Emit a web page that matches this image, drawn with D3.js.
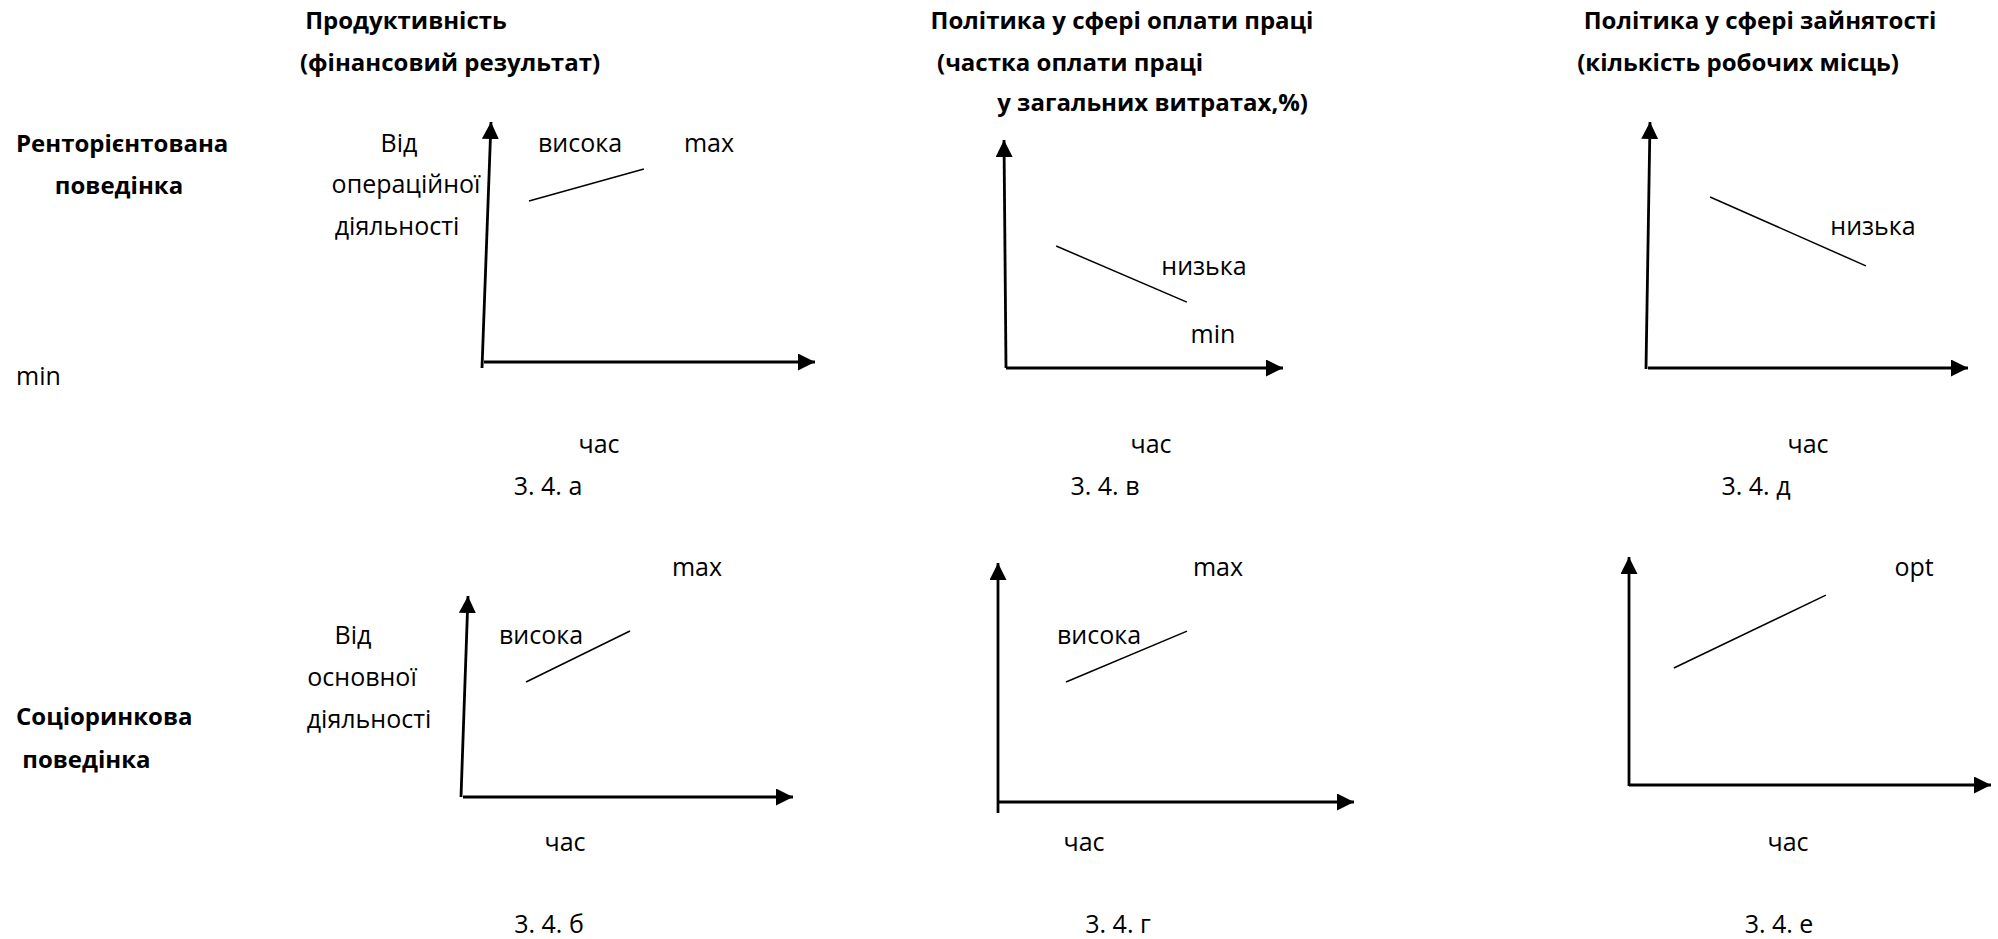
<!DOCTYPE html>
<html>
<head>
  <meta charset="UTF-8">
  <style>
    body { margin: 0; background: #fff; }
    svg text { font-family: "Open Sans", "Noto Sans", sans-serif; fill: #000; }
  </style>
</head>
<body>
<svg></svg>
<script src="https://d3js.org/d3.v7.min.js"></script>
<script>
const width = 1998, height = 939;

// panels: a, в, д in the top row; б, г, е in the bottom row
const panelIds = ["а", "б", "в", "г", "д", "е"];
const captions = ["3. 4. а", "3. 4. б", "3. 4. в", "3. 4. г", "3. 4. д", "3. 4. е"];
// trend line endpoints, % of the axis length [x, y]
const lineStart = [[13.6, 67.1], [19.1, 57.2], [18.1, 53.5], [19.1, 50.2], [19.4, 69.5], [12.4, 51.3]];
const lineEnd   = [[48.3, 80.4], [50.6, 82.6], [65.3, 28.9], [53.1, 71.5], [68.1, 41.5], [54.4, 83.3]];
const levelLabels = ["висока", "висока", "низька", "висока", "низька", ""];
const limitLabels = ["max", "max", "min", "max", "", "opt"];
const timeLabel = "час";

const columnTitles = [
  ["Продуктивність", "(фінансовий результат)"],
  ["Політика у сфері оплати праці", "(частка оплати праці", "у загальних витратах,%)"],
  ["Політика у сфері зайнятості", "(кількість робочих місць)"]
];
const rowTitles = [["Ренторієнтована", "поведінка"], ["Соціоринкова", " поведінка"]];
const sourceNotes = [["Від", "операційної", "діяльності"], ["Від", "основної", "діяльності"]];

// layout of each little axis frame (pixels)
const frames = {
  "а": {ox: 484, oy: 362, xEnd: 815, yTop: 122, yBot: 368, lean: 7},
  "б": {ox: 463, oy: 797, xEnd: 793, yTop: 596, yBot: 797, lean: 5},
  "в": {ox: 1006, oy: 368, xEnd: 1283, yTop: 140, yBot: 368, lean: -2},
  "г": {ox: 998, oy: 802, xEnd: 1354, yTop: 563, yBot: 813, lean: 0},
  "д": {ox: 1648, oy: 368, xEnd: 1968, yTop: 122, yBot: 369, lean: 2},
  "е": {ox: 1629, oy: 785, xEnd: 1991, yTop: 557, yBot: 786, lean: 0}
};
// label anchors per panel: level label, limit label, time label, caption
const labelPos = {
  "а": {level: [580, 145], limit: [709, 145], time: [599, 446], cap: [548, 488]},
  "б": {level: [541, 637], limit: [697, 569], time: [565, 844], cap: [549, 926]},
  "в": {level: [1204, 268], limit: [1213, 336], time: [1151, 446], cap: [1105, 488]},
  "г": {level: [1099, 637], limit: [1218, 569], time: [1084, 844], cap: [1118, 926]},
  "д": {level: [1873, 228], limit: [0, 0], time: [1808, 446], cap: [1756, 488]},
  "е": {level: [0, 0], limit: [1914, 569], time: [1788, 844], cap: [1779, 926]}
};

const fsBold = 24, fs = 25;

const svg = d3.select("svg")
  .attr("width", width)
  .attr("height", height)
  .attr("viewBox", `0 0 ${width} ${height}`);

function addText(x, y, str, opts = {}) {
  return svg.append("text")
    .attr("x", x)
    .attr("y", y)
    .attr("text-anchor", opts.anchor || "middle")
    .attr("dominant-baseline", "middle")
    .style("font-size", (opts.bold ? fsBold : fs) + "px")
    .style("font-weight", opts.bold ? 700 : 400)
    .style("white-space", "pre")
    .text(str);
}

// column titles
addText(406, 23, columnTitles[0][0], {bold: true});
addText(450, 65, columnTitles[0][1], {bold: true});
addText(1122, 23, columnTitles[1][0], {bold: true});
addText(937, 65, columnTitles[1][1], {bold: true, anchor: "start"});
addText(1308, 105, columnTitles[1][2], {bold: true, anchor: "end"});
addText(1760, 23, columnTitles[2][0], {bold: true});
addText(1738, 65, columnTitles[2][1], {bold: true});

// row titles
addText(16, 146, rowTitles[0][0], {bold: true, anchor: "start"});
addText(119, 188, rowTitles[0][1], {bold: true});
addText(16, 719, rowTitles[1][0], {bold: true, anchor: "start"});
addText(16, 762, rowTitles[1][1], {bold: true, anchor: "start"});
addText(16, 378, "min", {anchor: "start"});

// "Від ... діяльності" notes beside the productivity axes
[[399, 406, 397], [353, 362, 369]].forEach((xs, r) => {
  const ys = r === 0 ? [145, 186, 228] : [637, 679, 721];
  sourceNotes[r].forEach((s, i) => addText(xs[i], ys[i], s));
});

// arrowheads
const defs = svg.append("defs");
defs.append("marker")
  .attr("id", "arrow")
  .attr("viewBox", "0 0 16 16")
  .attr("refX", 16).attr("refY", 8)
  .attr("markerWidth", 17).attr("markerHeight", 17)
  .attr("markerUnits", "userSpaceOnUse")
  .attr("orient", "auto")
  .append("path")
  .attr("d", "M0,0 L16,8 L0,16 Z")
  .attr("fill", "#000");

panelIds.forEach((id, i) => {
  const f = frames[id];
  const x = d3.scaleLinear().domain([0, 100]).range([f.ox, f.xEnd]);
  const y = d3.scaleLinear().domain([0, 100]).range([f.oy, f.yTop]);
  const g = svg.append("g");

  // axes
  g.append("line")
    .attr("x1", f.ox - (f.lean > 0 ? 2 : 0)).attr("y1", f.yBot)
    .attr("x2", x(0) + f.lean).attr("y2", y(100))
    .attr("stroke", "#000").attr("stroke-width", 2.8)
    .attr("marker-end", "url(#arrow)");
  g.append("line")
    .attr("x1", x(0)).attr("y1", y(0))
    .attr("x2", x(100)).attr("y2", y(0))
    .attr("stroke", "#000").attr("stroke-width", 2.8)
    .attr("marker-end", "url(#arrow)");

  // trend line
  g.append("line")
    .attr("x1", x(lineStart[i][0])).attr("y1", y(lineStart[i][1]))
    .attr("x2", x(lineEnd[i][0])).attr("y2", y(lineEnd[i][1]))
    .attr("stroke", "#000").attr("stroke-width", 1.5);

  const p = labelPos[id];
  if (levelLabels[i]) addText(p.level[0], p.level[1], levelLabels[i]);
  if (limitLabels[i]) addText(p.limit[0], p.limit[1], limitLabels[i]);
  addText(p.time[0], p.time[1], timeLabel);
  addText(p.cap[0], p.cap[1], captions[i]);
});
</script>
</body>
</html>
